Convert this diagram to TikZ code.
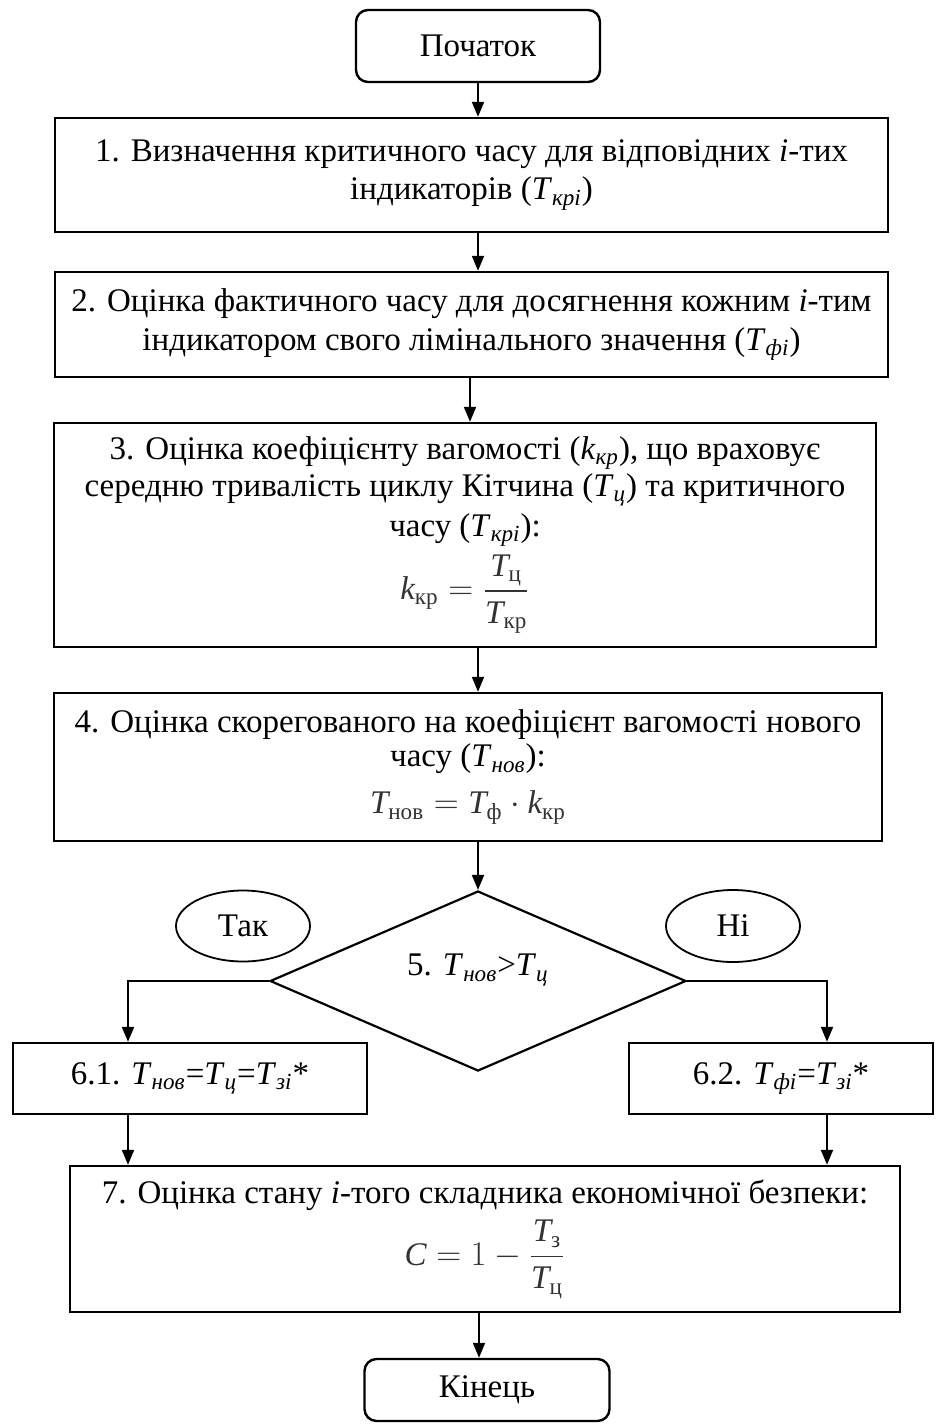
\documentclass[tikz,border=0pt]{standalone}
\usepackage{amsmath}
\usepackage{fontspec}
\setmainfont{Liberation Serif}
\usetikzlibrary{shapes.geometric,arrows.meta}
\newcommand{\isub}[1]{\textsubscript{\itshape #1}}
\newcommand{\vT}{\text{\itshape T}}
\newcommand{\vk}{\text{\itshape k}}
\newcommand{\vC}{\text{\itshape C}}
\newcommand{\fml}[1]{\textcolor{black!80}{$\displaystyle #1$}}
\tikzset{
  every node/.style={font=\fontsize{16.5}{18.5}\selectfont, inner sep=0pt},
  procbox/.style={draw, line width=1.2pt, rectangle, align=center},
  termbox/.style={draw, line width=1.2pt, rectangle, rounded corners=6pt, align=center},
  ansbox/.style={draw, line width=0.9pt, ellipse},
  decbox/.style={draw, line width=1.1pt, diamond},
  conn/.style={line width=1pt, -{Triangle[length=7.5pt,width=6pt]}}
}
\begin{document}
\begin{tikzpicture}[x=0.5pt,y=-0.5pt]
\useasboundingbox (0,0) rectangle (945,1425);

\node[termbox, minimum width=122pt, minimum height=36pt] (start) at (478,46) {Початок};

\node[procbox, minimum width=416.5pt, minimum height=57pt] (b1) at (471.5,175)
  {1. Визначення критичного часу для відповідних \textit{i}-тих\\[0.5pt]
   індикаторів (\textit{T}\isub{крі})};

\node[procbox, minimum width=416.5pt, minimum height=52.5pt] (b2) at (471.5,324.5)
  {2. Оцінка фактичного часу для досягнення кожним \textit{i}-тим\\[1pt]
   індикатором свого лімінального значення (\textit{T}\isub{фі})};

\node[procbox, minimum width=411pt, minimum height=112pt] (b3) at (465,535)
  {3. Оцінка коефіцієнту вагомості (\textit{k}\isub{кр}), що враховує\\
   середню тривалість циклу Кітчина (\textit{T}\isub{ц}) та критичного\\[1.5pt]
   часу (\textit{T}\isub{крі}):\\[3pt]
   \fml{\vk_{\text{кр}} = \frac{\vT_{\text{ц}}}{\vT_{\text{кр}}}}};

\node[procbox, minimum width=414pt, minimum height=74pt] (b4) at (468,767)
  {4. Оцінка скорегованого на коефіцієнт вагомості нового\\[-1.5pt]
   часу (\textit{T}\isub{нов}):\\[5pt]
   \fml{\vT_{\text{нов}} = \vT_{\text{ф}}\cdot \vk_{\text{кр}}}};

\node[decbox, minimum width=208pt, minimum height=90pt] (d5) at (478,981) {};
\node (d5t) at (478,970) {5. \textit{T}\isub{нов}>\textit{T}\isub{ц}};

\node[ansbox, minimum width=67pt, minimum height=35.5pt] (tak) at (243,926) {Так};
\node[ansbox, minimum width=67pt, minimum height=36pt] (ni) at (733,926) {Ні};

\node[procbox, minimum width=177pt, minimum height=35.5pt] (b61) at (190,1078.5)
  {6.1. \textit{T}\isub{нов}=\textit{T}\isub{ц}=\textit{T}\isub{зі}*};
\node[procbox, minimum width=152pt, minimum height=35.5pt] (b62) at (781,1078.5)
  {6.2. \textit{T}\isub{фі}=\textit{T}\isub{зі}*};

\node[procbox, minimum width=415pt, minimum height=73pt] (b7) at (485,1239)
  {7. Оцінка стану \textit{i}-того складника економічної безпеки:\\[4pt]
   \fml{\vC = 1-\frac{\vT_{\text{з}}}{\vT_{\text{ц}}}}};

\node[termbox, minimum width=122.5pt, minimum height=31pt] (end) at (487,1390) {Кінець};

\draw[conn] (start.south) -- (start.south |- b1.north);
\draw[conn] (b1.south -| start) -- (b2.north -| start);
\draw[conn] ([xshift=-4pt]b2.south -| start) -- ([xshift=-4pt]b3.north -| start);
\draw[conn] (b3.south -| start) -- (b4.north -| start);
\draw[conn] (b4.south -| d5) -- (d5.north);
\draw[conn] (d5.west) -| ([xshift=-31pt]b61.north);
\draw[conn] (d5.east) -| ([xshift=23pt]b62.north);
\draw[conn] ([xshift=-31pt]b61.south) -- ([xshift=-31pt]b61.south |- b7.north);
\draw[conn] ([xshift=23pt]b62.south) -- ([xshift=23pt]b62.south |- b7.north);
\draw[conn] ([xshift=-4pt]end.north |- b7.south) -- ([xshift=-4pt]end.north);
\end{tikzpicture}
\end{document}
